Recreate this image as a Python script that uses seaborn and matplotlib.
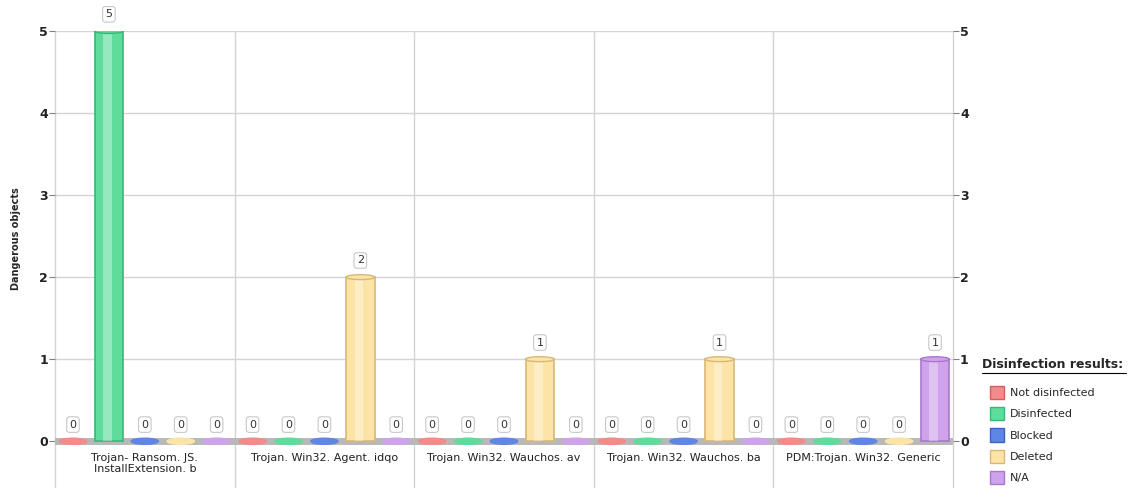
import matplotlib.pyplot as plt
import matplotlib.lines as mlines
from matplotlib.patches import Ellipse, Patch, Rectangle
import pandas as pd
import seaborn as sns

# Data

threats = ['Trojan- Ransom. JS.\nInstallExtension. b', 'Trojan. Win32. Agent. idqo',
           'Trojan. Win32. Wauchos. av', 'Trojan. Win32. Wauchos. ba',
           'PDM:Trojan. Win32. Generic']
results = ['Not disinfected', 'Disinfected', 'Blocked', 'Deleted', 'N/A']
not_disinfected = [0, 0, 0, 0, 0]
disinfected = [5, 0, 0, 0, 0]
blocked = [0, 0, 0, 0, 0]
deleted = [0, 2, 1, 1, 0]
n_a = [0, 0, 0, 0, 1]
colors = ['#f48a8a', '#5fdc9c', '#5f86e4', '#fbe4a6', '#cfa2ec']
edges = ['#d06060', '#38b878', '#3a62c0', '#d8b878', '#a878cc']

series = [not_disinfected, disinfected, blocked, deleted, n_a]
df = pd.DataFrame({
    'threat': [t for s in series for t in threats],
    'result': [r for r, s in zip(results, series) for _ in s],
    'count': [v for s in series for v in s],
})

sns.set_style('white')
fig = plt.figure(figsize=(11.28, 4.88), dpi=100)
ax = fig.add_axes([55 / 1128, 1 - 447 / 488, (953 - 55) / 1128, (447 - 31) / 488])

sns.barplot(data=df, x='threat', y='count', hue='result', hue_order=results,
            palette=colors, width=1.0, gap=0.2, order=threats, ax=ax,
            legend=False, saturation=1)

ymin = -0.07
ax.set_ylim(ymin, 5)
ax.set_xlim(-0.5, len(threats) - 0.5)

# grid
for y in range(1, 6):
    ax.axhline(y, color='#d4d4d4', lw=1, zorder=0)
ax.vlines([i - 0.5 for i in range(len(threats) + 1)], -0.57, 5,
          color='#d4d4d4', lw=1, clip_on=False, zorder=0)
ax.axhline(0, color='#b8b8b8', lw=5, zorder=1)

# cylinder look, zero ellipses and value boxes
for container, col, ec in zip(ax.containers, colors, edges):
    for bar, val in zip(container, container.datavalues):
        cx = bar.get_x() + bar.get_width() / 2
        w = bar.get_width()
        if val == 0:
            ax.add_patch(Ellipse((cx, 0), w * 0.95, 0.075, color=col, zorder=3))
        else:
            bar.set_edgecolor(ec)
            bar.set_linewidth(1.2)
            bar.set_zorder(3)
            ax.add_patch(Rectangle((bar.get_x() + w * 0.3, 0), w * 0.3, val,
                                   color='white', alpha=0.35, lw=0, zorder=3.5))
            ax.add_patch(Ellipse((cx, val), w, 0.06, facecolor=col, edgecolor=ec,
                                 lw=1, zorder=4))
        ax.annotate(f'{int(val)}', (cx, val), xytext=(0, 12), textcoords='offset points',
                    ha='center', va='center', fontsize=8, color='#333333',
                    bbox=dict(boxstyle='round,pad=0.25', fc='white', ec='#c8c8c8', lw=0.8),
                    zorder=5)

ax.set_xlabel('')
ax.set_ylabel('Dangerous objects', fontsize=7, fontweight='bold', labelpad=13)
ax.set_yticks(range(6))
ax.tick_params(axis='y', length=4, width=0.8, color='#808080', labelsize=9,
               labelcolor='#222222', left=True, right=True, labelright=True, pad=1)
ax.tick_params(axis='x', length=0, labelsize=8, labelcolor='#222222', pad=4)
for lab in ax.get_yticklabels():
    lab.set_fontweight('bold')
sns.despine(ax=ax, left=True, right=True, top=True, bottom=True)

# legend
handles = [Patch(facecolor=c, edgecolor=e, label=r) for r, c, e in zip(results, colors, edges)]
fig.legend(handles=handles, loc='upper left', bbox_to_anchor=(984 / 1128, 1 - 380 / 488),
           frameon=False, fontsize=8, handlelength=1.3, handleheight=1.5,
           labelspacing=0.7, handletextpad=0.5, borderpad=0)
fig.text(982 / 1128, 1 - 365 / 488, 'Disinfection results:', fontsize=9,
         fontweight='bold', va='center', ha='left')
fig.add_artist(mlines.Line2D([982 / 1128, 1126 / 1128], [1 - 373 / 488] * 2,
                             color='black', lw=0.8))

fig.savefig('out.png', dpi=100)
